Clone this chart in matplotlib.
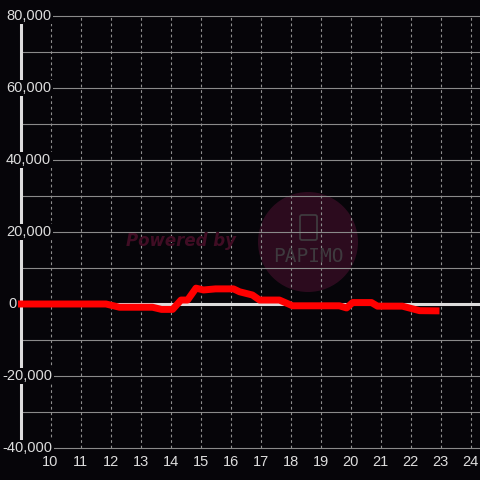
import matplotlib
matplotlib.use("Agg")
import matplotlib.pyplot as plt
from matplotlib.patches import Circle, FancyBboxPatch
from matplotlib.transforms import blended_transform_factory

plt.rcParams['font.family'] = ['Liberation Sans', 'DejaVu Sans']

# data
hours = [9, 11.85, 12.3, 13.4, 13.7, 14.07, 14.35, 14.57, 14.85, 15.1, 15.5, 16.1,
         16.3, 16.73, 16.97, 17.63, 18.07, 19.63, 19.87, 20.07, 20.7, 20.9, 21.73,
         22.3, 22.85]
values = [0, 0, -900, -900, -1500, -1500, 1100, 1100, 4400, 3900, 4200, 4200,
          3400, 2500, 1100, 1100, -500, -500, -1100, 400, 400, -600, -600,
          -1850, -1900]
x_ticks = list(range(10, 25))
y_labels = [80000, 60000, 40000, 20000, 0, -20000, -40000]
y_grid = list(range(-40000, 80001, 10000))

bg = '#060509'
fig = plt.figure(figsize=(4.8, 4.8), dpi=100, facecolor=bg)
W = H = 480.0
ax = fig.add_axes([20.5 / W, 32 / H, (W - 20.5) / W, (448 - 16) / H])
ax.set_facecolor(bg)
ax.set_xlim(9, 9 + (W - 20.5) / 30)
ax.set_ylim(-40000, 80000)

for s in ['top', 'right', 'bottom']:
    ax.spines[s].set_visible(False)
ax.spines['left'].set_color('#dddddd')
ax.spines['left'].set_linewidth(2.2)
ax.spines['left'].set_zorder(3)

# watermark
circ = Circle((308 / W, (H - 242) / H), 50 / W, transform=fig.transFigure,
              facecolor='#3a0e26', alpha=0.75, edgecolor='none', zorder=0.5)
ax.add_artist(circ)
phone = FancyBboxPatch((300 / W, (H - 240) / H), 17 / W, 25 / H,
                       boxstyle='round,pad=0,rounding_size=0.004',
                       transform=fig.transFigure, facecolor='none',
                       edgecolor='#3e3a3e', lw=1.3, zorder=0.6)
ax.add_artist(phone)
fig.text(308 / W, (H - 257) / H, 'PAPIMO', color='#3e3a3e', fontsize=14,
         ha='center', va='center', family=['DejaVu Sans Mono', 'DejaVu Sans'],
         zorder=0.6)
fig.text(181 / W, (H - 241) / H, 'Powered by', color='#400d24', fontsize=12,
         fontweight='bold', fontstyle='italic', family=['DejaVu Sans'],
         ha='center', va='center', zorder=0.6)

# grid
for yv in y_grid:
    ax.axhline(yv, color='#8a8a8a', lw=0.8, zorder=1, clip_on=False)
ax.vlines(x_ticks, -40000, 80000, colors='#8f8f8f', lw=0.8,
          linestyles=(0, (2.5, 2.5)), zorder=1)
ax.axhline(0, color='#dddddd', lw=2.2, zorder=2)

# line
ax.plot(hours, values, color='#ff0000', lw=5, solid_joinstyle='round',
        solid_capstyle='projecting', zorder=4, clip_on=False)

# ticks
ax.set_xticks(x_ticks)
ax.set_xticklabels([str(t) for t in x_ticks])
ax.tick_params(axis='x', length=0, labelcolor='#dddddd', labelsize=10.5, pad=5)
ax.set_yticks([])

tr = blended_transform_factory(fig.transFigure, ax.transData)
for yv in y_labels:
    lab = f'{yv:,}'
    xpos = 6 if yv >= 0 else 2.5
    if yv == 0:
        xpos = 8
    ax.text(xpos / W, yv, lab, transform=tr, ha='left', va='center',
            color='#dddddd', fontsize=10.5, clip_on=False, zorder=6,
            bbox=dict(facecolor=bg, edgecolor='none', pad=1.0))

fig.savefig('out.png', dpi=100, facecolor=bg)
